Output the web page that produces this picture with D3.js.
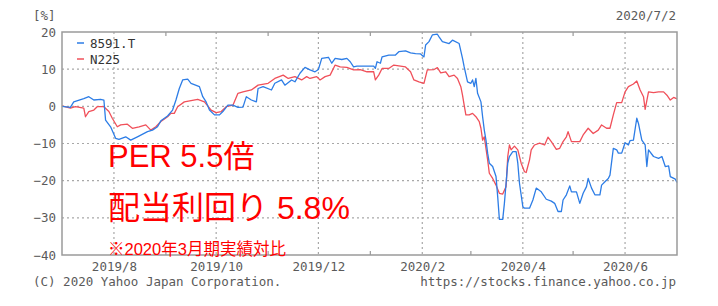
<!DOCTYPE html>
<html>
<head>
<meta charset="utf-8">
<script src="https://cdn.jsdelivr.net/npm/d3@7"></script>
<style>
body { margin: 0; background: #fff; }
</style>
</head>
<body>
<div id="container"></div>
<script>
let parser = d3.timeParse("%Y-%m-%d")
let monthFormat = d3.timeFormat("%Y/%-m")

// axis setup
let startDate = "2019-07-01"
let endDate = "2020-07-02"
let yTicks = [20, 10, 0, -10, -20, -30, -40]
let gridMonths = ["2019-08-01", "2019-10-01", "2019-12-01", "2020-02-01", "2020-04-01", "2020-06-01"]
let minorMonths = ["2019-09-01", "2019-11-01", "2020-01-01", "2020-03-01", "2020-05-01"]
let legendNames = ["8591.T", "N225"]
let colors = ["#2d7de6", "#f0505a"]

// % change
let series8591 = [
  ["2019-07-01", 0.0], ["2019-07-06", -0.3], ["2019-07-08", 1.2], ["2019-07-14", 2.1],
  ["2019-07-17", 2.6], ["2019-07-20", 1.7], ["2019-07-24", 1.9], ["2019-07-26", 1.7],
  ["2019-07-27", -3.7], ["2019-07-30", -5.5], ["2019-08-02", -8.6], ["2019-08-04", -8.9],
  ["2019-08-08", -8.2], ["2019-08-11", -9.1], ["2019-08-15", -8.2], ["2019-08-21", -6.8],
  ["2019-08-24", -6.4], ["2019-08-27", -5.5], ["2019-08-29", -3.9], ["2019-09-02", -2.6],
  ["2019-09-05", -1.0], ["2019-09-07", 1.7], ["2019-09-09", 4.8], ["2019-09-11", 7.1],
  ["2019-09-14", 7.3], ["2019-09-16", 6.2], ["2019-09-21", 5.3], ["2019-09-23", 2.6],
  ["2019-09-25", 1.2], ["2019-09-27", -1.0], ["2019-09-30", -2.3], ["2019-10-03", -2.3],
  ["2019-10-05", -1.4], ["2019-10-08", 0.3], ["2019-10-11", 0.3], ["2019-10-14", -0.3],
  ["2019-10-17", -0.2], ["2019-10-19", 2.6], ["2019-10-22", 1.7], ["2019-10-25", 1.2],
  ["2019-10-26", 4.8], ["2019-10-29", 5.3], ["2019-11-03", 4.4], ["2019-11-05", 6.2],
  ["2019-11-09", 7.1], ["2019-11-11", 5.7], ["2019-11-15", 7.1], ["2019-11-17", 6.6],
  ["2019-11-20", 8.9], ["2019-11-23", 10.5], ["2019-11-26", 9.8], ["2019-11-29", 9.3],
  ["2019-12-01", 9.9], ["2019-12-03", 12.9], ["2019-12-07", 13.2], ["2019-12-09", 11.6],
  ["2019-12-11", 12.9], ["2019-12-15", 12.6], ["2019-12-18", 12.9], ["2019-12-20", 12.0],
  ["2019-12-22", 10.6], ["2019-12-24", 10.8], ["2020-01-03", 10.8], ["2020-01-04", 10.2],
  ["2020-01-05", 12.0], ["2020-01-07", 11.6], ["2020-01-08", 13.3], ["2020-01-12", 13.8],
  ["2020-01-16", 13.8], ["2020-01-18", 14.7], ["2020-01-22", 14.9], ["2020-01-25", 14.4],
  ["2020-01-28", 14.2], ["2020-01-31", 14.1], ["2020-02-02", 13.3], ["2020-02-03", 16.5],
  ["2020-02-05", 17.4], ["2020-02-07", 19.2], ["2020-02-10", 19.4], ["2020-02-11", 18.7],
  ["2020-02-13", 17.4], ["2020-02-17", 16.9], ["2020-02-19", 17.8], ["2020-02-23", 16.9],
  ["2020-02-25", 12.9], ["2020-02-26", 10.6], ["2020-02-28", 6.6], ["2020-03-01", 6.2],
  ["2020-03-02", 7.1], ["2020-03-03", 5.3], ["2020-03-04", 7.5], ["2020-03-05", 3.5],
  ["2020-03-07", 1.2], ["2020-03-08", -2.8], ["2020-03-09", -6.4], ["2020-03-10", -9.1],
  ["2020-03-11", -12.6], ["2020-03-12", -15.3], ["2020-03-14", -16.2], ["2020-03-16", -18.9],
  ["2020-03-17", -24.3], ["2020-03-18", -30.4], ["2020-03-20", -30.4], ["2020-03-21", -26.1],
  ["2020-03-23", -15.3], ["2020-03-24", -13.5], ["2020-03-26", -12.2], ["2020-03-28", -12.2],
  ["2020-03-29", -15.3], ["2020-03-30", -20.7], ["2020-04-01", -27.0], ["2020-04-02", -27.4],
  ["2020-04-05", -27.4], ["2020-04-07", -25.2], ["2020-04-09", -22.0], ["2020-04-12", -23.0],
  ["2020-04-15", -25.0], ["2020-04-18", -25.5], ["2020-04-20", -26.1], ["2020-04-22", -28.3],
  ["2020-04-24", -28.3], ["2020-04-25", -25.2], ["2020-04-27", -23.8], ["2020-04-29", -21.4],
  ["2020-04-30", -23.0], ["2020-05-03", -23.0], ["2020-05-05", -26.1], ["2020-05-07", -23.4],
  ["2020-05-09", -21.6], ["2020-05-10", -19.4], ["2020-05-12", -22.0], ["2020-05-14", -23.8],
  ["2020-05-17", -23.8], ["2020-05-18", -21.2], ["2020-05-20", -20.3], ["2020-05-22", -19.4],
  ["2020-05-23", -18.5], ["2020-05-25", -11.3], ["2020-05-27", -11.7], ["2020-05-28", -12.6],
  ["2020-05-30", -12.6], ["2020-06-01", -9.8], ["2020-06-03", -10.4], ["2020-06-04", -9.2],
  ["2020-06-06", -9.1], ["2020-06-08", -3.2], ["2020-06-09", -4.6], ["2020-06-11", -9.1],
  ["2020-06-13", -10.4], ["2020-06-14", -16.2], ["2020-06-15", -11.7], ["2020-06-18", -13.5],
  ["2020-06-21", -14.0], ["2020-06-23", -13.5], ["2020-06-25", -16.2], ["2020-06-27", -16.0],
  ["2020-06-28", -18.9], ["2020-07-01", -19.6], ["2020-07-02", -20.5]
]

let seriesN225 = [
  ["2019-07-01", 0.1], ["2019-07-06", -0.5], ["2019-07-09", -0.1], ["2019-07-14", -0.5],
  ["2019-07-15", -2.8], ["2019-07-17", -1.4], ["2019-07-20", -1.0], ["2019-07-22", -0.1],
  ["2019-07-26", -0.1], ["2019-07-29", -1.4], ["2019-07-31", -3.2], ["2019-08-03", -5.5],
  ["2019-08-05", -5.0], ["2019-08-09", -4.8], ["2019-08-12", -5.9], ["2019-08-16", -5.5],
  ["2019-08-20", -5.0], ["2019-08-23", -6.4], ["2019-08-26", -5.5], ["2019-08-29", -4.1],
  ["2019-09-02", -2.8], ["2019-09-04", -1.9], ["2019-09-06", -1.9], ["2019-09-08", -0.1],
  ["2019-09-12", 1.2], ["2019-09-20", 1.9], ["2019-09-24", 1.2], ["2019-09-28", -1.0],
  ["2019-10-01", -1.7], ["2019-10-04", -1.4], ["2019-10-07", -0.1], ["2019-10-11", 0.3],
  ["2019-10-14", 3.5], ["2019-10-17", 3.9], ["2019-10-22", 4.4], ["2019-10-26", 5.7],
  ["2019-11-01", 6.2], ["2019-11-05", 7.5], ["2019-11-10", 8.4], ["2019-11-13", 7.5],
  ["2019-11-17", 8.0], ["2019-11-21", 7.1], ["2019-11-24", 8.0], ["2019-11-26", 7.5],
  ["2019-11-30", 8.0], ["2019-12-02", 7.1], ["2019-12-05", 8.0], ["2019-12-08", 8.4],
  ["2019-12-11", 11.1], ["2019-12-14", 10.6], ["2019-12-18", 10.5], ["2019-12-22", 9.8],
  ["2019-12-26", 9.9], ["2019-12-30", 9.3], ["2020-01-03", 9.3], ["2020-01-04", 7.1],
  ["2020-01-06", 8.4], ["2020-01-08", 10.2], ["2020-01-12", 10.2], ["2020-01-15", 11.1],
  ["2020-01-19", 10.8], ["2020-01-22", 10.6], ["2020-01-25", 9.3], ["2020-01-27", 7.1],
  ["2020-01-30", 6.6], ["2020-02-02", 6.2], ["2020-02-04", 9.8], ["2020-02-08", 9.9],
  ["2020-02-10", 10.4], ["2020-02-12", 9.0], ["2020-02-15", 9.3], ["2020-02-17", 8.0],
  ["2020-02-20", 8.4], ["2020-02-22", 7.5], ["2020-02-24", 5.3], ["2020-02-25", 3.0],
  ["2020-02-26", 0.3], ["2020-02-27", -2.3], ["2020-02-29", -2.3], ["2020-03-02", -1.9],
  ["2020-03-04", -2.8], ["2020-03-06", -4.1], ["2020-03-07", -5.9], ["2020-03-08", -9.1],
  ["2020-03-09", -8.2], ["2020-03-11", -14.4], ["2020-03-12", -18.0], ["2020-03-14", -19.4],
  ["2020-03-16", -21.2], ["2020-03-18", -23.4], ["2020-03-20", -23.6], ["2020-03-22", -21.6],
  ["2020-03-23", -13.5], ["2020-03-24", -10.4], ["2020-03-25", -11.7], ["2020-03-27", -10.7],
  ["2020-03-29", -11.7], ["2020-03-31", -15.3], ["2020-04-02", -17.6], ["2020-04-03", -17.8],
  ["2020-04-05", -14.4], ["2020-04-06", -11.7], ["2020-04-08", -10.4], ["2020-04-11", -9.9],
  ["2020-04-14", -10.4], ["2020-04-16", -8.3], ["2020-04-18", -9.5], ["2020-04-21", -11.6],
  ["2020-04-23", -11.3], ["2020-04-25", -9.5], ["2020-04-27", -8.2], ["2020-04-28", -6.8],
  ["2020-04-30", -9.5], ["2020-05-05", -9.5], ["2020-05-07", -7.7], ["2020-05-10", -5.9],
  ["2020-05-13", -7.3], ["2020-05-16", -6.4], ["2020-05-18", -5.0], ["2020-05-21", -5.9],
  ["2020-05-23", -5.9], ["2020-05-25", -2.3], ["2020-05-27", 1.0], ["2020-05-30", 1.0],
  ["2020-06-01", 3.9], ["2020-06-03", 5.3], ["2020-06-06", 6.0], ["2020-06-08", 6.8],
  ["2020-06-10", 4.4], ["2020-06-12", 2.6], ["2020-06-13", -0.8], ["2020-06-15", 3.9],
  ["2020-06-18", 3.7], ["2020-06-21", 3.9], ["2020-06-24", 3.9], ["2020-06-26", 3.0],
  ["2020-06-28", 1.7], ["2020-06-30", 2.4], ["2020-07-02", 2.0]
]

let notes = ["PER 5.5倍", "配当利回り 5.8%", "※2020年3月期実績対比"]

let screenWidth = 718
let screenHeight = 306
let margin = {top: 32, right: 41, bottom: 51, left: 62}
let monoFont = "'DejaVu Sans Mono', monospace"
let textGray = "#5a5a5a"
let svg

function main() {
    createSVG()
    let data = [series8591, seriesN225].map(s => s.map(d => ({date: parser(d[0]), value: d[1]})))
    build(data)
}

function createSVG() {
    svg = d3.select('#container').append('svg')
      .attr('width', screenWidth)
      .attr('height', screenHeight)
      .style('display', 'block')
}

function build(data) {
    let x0 = margin.left, x1 = screenWidth - margin.right
    let y0 = margin.top, y1 = screenHeight - margin.bottom

    const xScale = d3.scaleTime()
      .domain([parser(startDate), parser(endDate)])
      .range([x0, x1])

    const yScale = d3.scaleLinear()
      .domain([-40, 20])
      .range([y1, y0])

    // dotted grid
    let grid = svg.append('g')
      .attr('stroke', '#a8a8a8')
      .attr('stroke-width', 1.2)
      .attr('stroke-dasharray', '2,3')
    grid.selectAll('.hg')
      .data(yTicks.slice(1, -1))
      .enter().append('line')
      .attr('x1', x0).attr('x2', x1)
      .attr('y1', d => yScale(d)).attr('y2', d => yScale(d))
    grid.selectAll('.vg')
      .data(gridMonths.map(parser))
      .enter().append('line')
      .attr('x1', d => xScale(d)).attr('x2', d => xScale(d))
      .attr('y1', y0).attr('y2', y1)

    // small ticks at odd months, top and bottom
    let minor = svg.append('g').attr('stroke', '#999').attr('stroke-width', 1.2)
    for (let m of minorMonths.map(parser)) {
        minor.append('line').attr('x1', xScale(m)).attr('x2', xScale(m)).attr('y1', y0).attr('y2', y0 + 4)
        minor.append('line').attr('x1', xScale(m)).attr('x2', xScale(m)).attr('y1', y1 - 4).attr('y2', y1)
    }

    // lines
    let line = d3.line()
      .x(d => xScale(d.date))
      .y(d => yScale(d.value))

    data.slice().reverse().forEach((s, i) => {
        svg.append('path')
          .datum(s)
          .attr('fill', 'none')
          .attr('stroke', colors[data.length - 1 - i])
          .attr('stroke-width', 1.3)
          .attr('stroke-linejoin', 'round')
          .attr('d', line)
    })

    // frame
    svg.append('rect')
      .attr('x', x0).attr('y', y0)
      .attr('width', x1 - x0).attr('height', y1 - y0)
      .attr('fill', 'none')
      .attr('stroke', '#9a9a9a')
      .attr('stroke-width', 1.5)

    // axes labels
    const yAxis = d3.axisLeft(yScale)
      .tickValues(yTicks)
      .tickSize(0)
      .tickPadding(6)
    let ya = svg.append('g')
      .attr('transform', `translate(${x0},0)`)
      .call(yAxis)
    ya.select('.domain').remove()
    ya.selectAll('text').attr('fill', textGray).style('font', `12.5px ${monoFont}`)

    const xAxis = d3.axisBottom(xScale)
      .tickValues(gridMonths.map(parser))
      .tickFormat(monthFormat)
      .tickSize(0)
      .tickPadding(7)
    let xa = svg.append('g')
      .attr('transform', `translate(0,${y1})`)
      .call(xAxis)
    xa.select('.domain').remove()
    xa.selectAll('text').attr('fill', textGray).style('font', `12.5px ${monoFont}`)

    // header / footer texts
    let plain = [
        {t: "[%]", x: 33, y: 20, a: 'start'},
        {t: "2020/7/2", x: 676, y: 20, a: 'end'},
        {t: "(C) 2020 Yahoo Japan Corporation.", x: 33, y: 286, a: 'start'},
        {t: "https://stocks.finance.yahoo.co.jp", x: 676, y: 286, a: 'end'}
    ]
    svg.selectAll('.plain')
      .data(plain)
      .enter().append('text')
      .attr('x', d => d.x).attr('y', d => d.y)
      .attr('text-anchor', d => d.a)
      .attr('fill', textGray)
      .style('font', `12.5px ${monoFont}`)
      .text(d => d.t)

    // legend
    let legend = svg.append('g')
    legendNames.forEach((name, i) => {
        let ly = 43 + i * 16
        legend.append('line')
          .attr('x1', 77).attr('x2', 84)
          .attr('y1', ly).attr('y2', ly)
          .attr('stroke', colors[i]).attr('stroke-width', 1.5)
        legend.append('text')
          .attr('x', 90).attr('y', ly + 4.5)
          .attr('fill', '#333')
          .style('font', `12.5px ${monoFont}`)
          .text(name)
    })

    // red notes
    let noteSizes = [31, 32, 16.5]
    let noteY = [167, 218.5, 255]
    let notesG = svg.append('g')
    notes.forEach((t, i) => {
        notesG.append('text')
          .attr('x', 108).attr('y', noteY[i])
          .attr('fill', '#ff0000')
          .style('font', `${noteSizes[i]}px 'Liberation Sans', 'Noto Sans CJK JP', sans-serif`)
          .text(t)
    })
}

main()
</script>
</body>
</html>
